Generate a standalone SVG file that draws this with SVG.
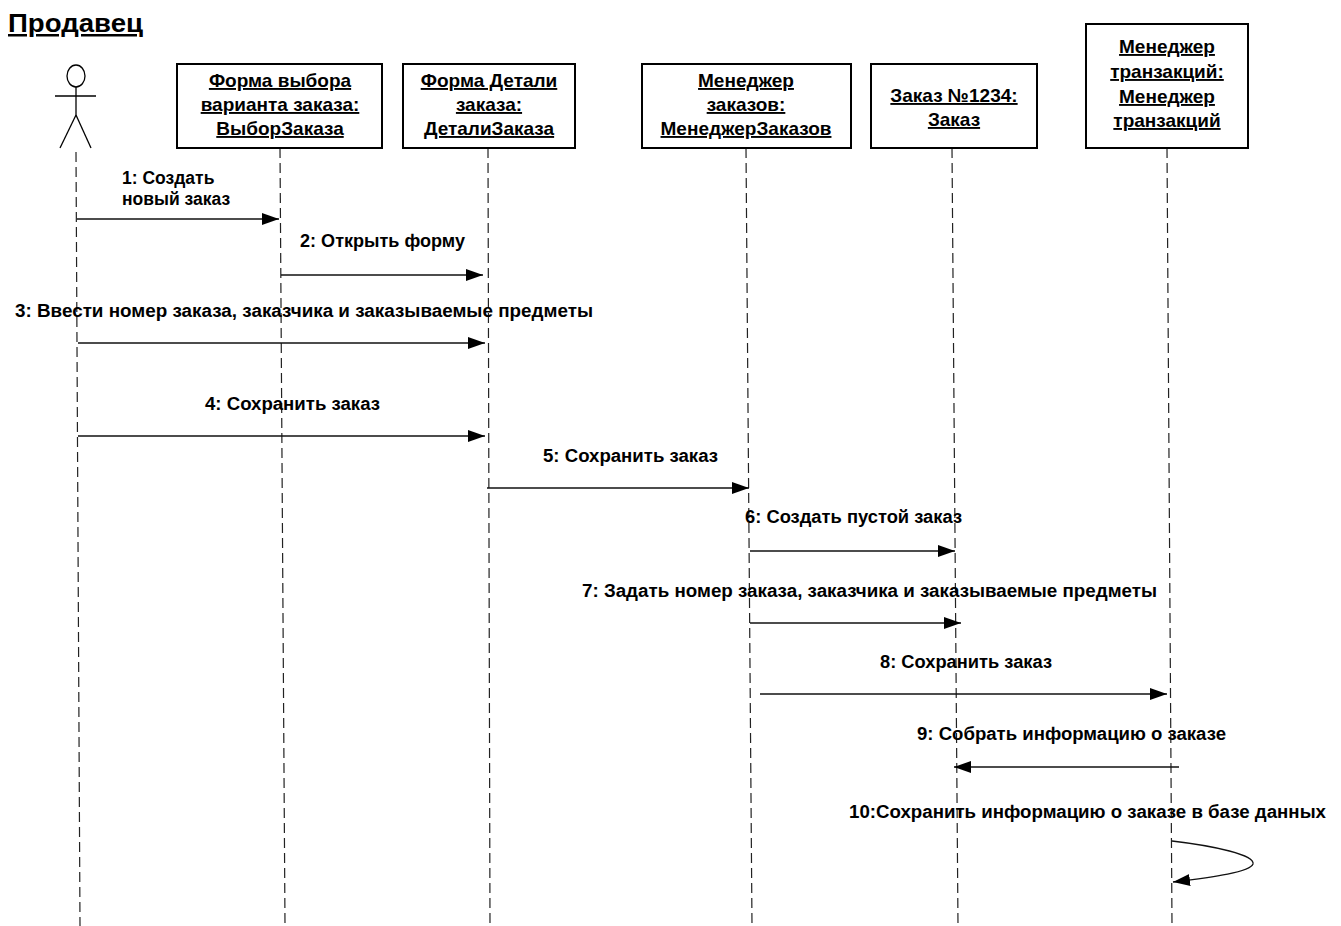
<svg xmlns="http://www.w3.org/2000/svg" width="1341" height="926" viewBox="0 0 1341 926">
<style>
  .box { fill: #fff; stroke: #000; stroke-width: 2; }
  .bt { font-family: "Liberation Sans", Arial, sans-serif; font-weight: bold; font-size: 19px; text-anchor: middle; text-decoration: underline; fill: #000; }
  .lbl { font-family: "Liberation Sans", Arial, sans-serif; font-weight: bold; font-size: 17.5px; fill: #000; }
  .life { stroke: #222; stroke-width: 1.2; stroke-dasharray: 10 5; fill: none; }
  .msg { stroke: #111; stroke-width: 1.3; fill: none; marker-end: url(#arr); }
  .actor { stroke: #000; stroke-width: 1.3; fill: none; }
</style>
<defs>
  <marker id="arr" markerUnits="userSpaceOnUse" markerWidth="18" markerHeight="13" refX="17" refY="6" orient="auto">
    <path d="M0,0 L17,6 L0,12 z" fill="#000"/>
  </marker>
</defs>
<rect width="1341" height="926" fill="#fff"/>

<text x="8" y="32" font-family="Liberation Sans, Arial, sans-serif" font-weight="bold" font-size="25" text-decoration="underline" textLength="135" lengthAdjust="spacingAndGlyphs">Продавец</text>

<g id="lifelines">
  <line class="life" x1="76" y1="152" x2="80" y2="926"/>
  <line class="life" x1="280" y1="148" x2="285" y2="926"/>
  <line class="life" x1="488" y1="148" x2="490" y2="926"/>
  <line class="life" x1="746" y1="148" x2="752" y2="926"/>
  <line class="life" x1="952" y1="148" x2="958" y2="926"/>
  <line class="life" x1="1167" y1="148" x2="1172" y2="926"/>
</g>

<g id="actor">
  <ellipse class="actor" cx="76" cy="76" rx="9" ry="11"/>
  <line class="actor" x1="76" y1="87" x2="76" y2="115"/>
  <line class="actor" x1="55" y1="96" x2="96" y2="96"/>
  <line class="actor" x1="76" y1="115" x2="60" y2="148"/>
  <line class="actor" x1="76" y1="115" x2="91" y2="148"/>
</g>

<g id="node-vybor">
  <rect class="box" x="177" y="64" width="205" height="84"/>
  <text class="bt" x="280" y="87">Форма выбора</text>
  <text class="bt" x="280" y="111">варианта заказа:</text>
  <text class="bt" x="280" y="135">ВыборЗаказа</text>
</g>

<g id="node-detali">
  <rect class="box" x="403" y="64" width="172" height="84"/>
  <text class="bt" x="489" y="87">Форма Детали</text>
  <text class="bt" x="489" y="111">заказа:</text>
  <text class="bt" x="489" y="135">ДеталиЗаказа</text>
</g>

<g id="node-manager">
  <rect class="box" x="642" y="64" width="209" height="84"/>
  <text class="bt" x="746" y="87">Менеджер</text>
  <text class="bt" x="746" y="111">заказов:</text>
  <text class="bt" x="746" y="135">МенеджерЗаказов</text>
</g>

<g id="node-order">
  <rect class="box" x="871" y="64" width="166" height="84"/>
  <text class="bt" x="954" y="102">Заказ №1234:</text>
  <text class="bt" x="954" y="126">Заказ</text>
</g>

<g id="node-trans">
  <rect class="box" x="1086" y="24" width="162" height="124"/>
  <text class="bt" x="1167" y="53">Менеджер</text>
  <text class="bt" x="1167" y="78">транзакций:</text>
  <text class="bt" x="1167" y="103">Менеджер</text>
  <text class="bt" x="1167" y="127">транзакций</text>
</g>

<g id="connectors">
  <line class="msg" x1="77" y1="219" x2="279" y2="219"/>
  <line class="msg" x1="281" y1="275" x2="483" y2="275"/>
  <line class="msg" x1="78" y1="343" x2="485" y2="343"/>
  <line class="msg" x1="78" y1="436" x2="485" y2="436"/>
  <line class="msg" x1="487" y1="488" x2="749" y2="488"/>
  <line class="msg" x1="750" y1="551" x2="955" y2="551"/>
  <line class="msg" x1="750" y1="623" x2="961" y2="623"/>
  <line class="msg" x1="760" y1="694" x2="1167" y2="694"/>
  <line class="msg" x1="1179" y1="767" x2="954" y2="767"/>
  <path class="msg" d="M1172,841 C1215,846 1255,855 1253,864 C1250,872 1215,877 1173,882"/>
</g>

<g id="labels">
  <text class="lbl" x="122" y="184">1: Создать</text>
  <text class="lbl" x="122" y="205">новый заказ</text>
  <text class="lbl" x="300" y="247" textLength="165" lengthAdjust="spacingAndGlyphs">2: Открыть форму</text>
  <text class="lbl" x="15" y="317" textLength="578" lengthAdjust="spacingAndGlyphs">3: Ввести номер заказа, заказчика и заказываемые предметы</text>
  <text class="lbl" x="205" y="410" textLength="175" lengthAdjust="spacingAndGlyphs">4: Сохранить заказ</text>
  <text class="lbl" x="543" y="462" textLength="175" lengthAdjust="spacingAndGlyphs">5: Сохранить заказ</text>
  <text class="lbl" x="745" y="523" textLength="217" lengthAdjust="spacingAndGlyphs">6: Создать пустой заказ</text>
  <text class="lbl" x="582" y="597" textLength="575" lengthAdjust="spacingAndGlyphs">7: Задать номер заказа, заказчика и заказываемые предметы</text>
  <text class="lbl" x="880" y="668" textLength="172" lengthAdjust="spacingAndGlyphs">8: Сохранить заказ</text>
  <text class="lbl" x="917" y="740" textLength="309" lengthAdjust="spacingAndGlyphs">9: Собрать информацию о заказе</text>
  <text class="lbl" x="849" y="818" textLength="477" lengthAdjust="spacingAndGlyphs">10:Сохранить информацию о заказе в базе данных</text>
</g>
</svg>
